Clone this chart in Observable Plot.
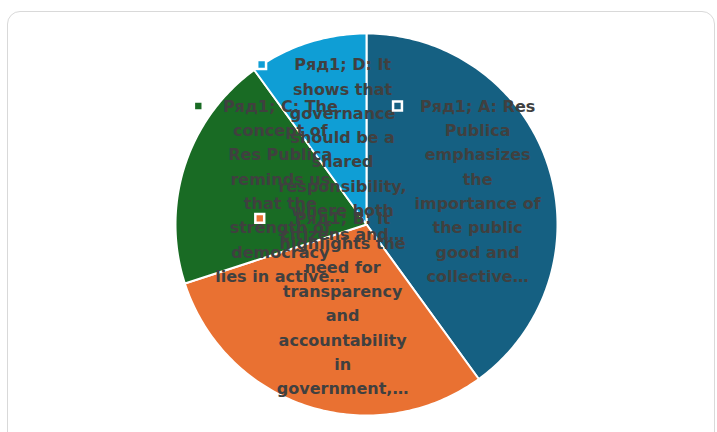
<!DOCTYPE html>
<html><head><meta charset="utf-8">
<script src="https://cdn.jsdelivr.net/npm/d3@7"></script>
<script src="https://cdn.jsdelivr.net/npm/@observablehq/plot@0.6"></script>
<style>
html,body{margin:0;padding:0;background:#fff;overflow:hidden;width:717px;height:432px}
#frame{position:absolute;left:7px;top:11px;width:708px;height:440px;border:1.5px solid #d9d9d9;border-radius:13px;box-sizing:border-box}
#chart{position:absolute;left:0;top:0}
</style></head><body>
<div id="frame"></div>
<div id="chart"></div>
<script>
// ---- data ----
const seriesName = "Ряд1";
const categories = ["A", "B", "C", "D"];
const values = [4, 3, 2, 1];
const labelTexts = [
  "Res\nPublica\nemphasizes\nthe\nimportance of\nthe public\ngood and\ncollective…",
  "It\nhighlights the\nneed for\ntransparency\nand\naccountability\nin\ngovernment,…",
  "The\nconcept of\nRes Publica\nreminds us\nthat the\nstrength of\ndemocracy\nlies in active…",
  "It\nshows that\ngovernance\nshould be a\nshared\nresponsibility,\nwhere both\ncitizens and…"
];
const colors = ["#156082", "#E97132", "#196B24", "#0F9ED5"];

// ---- layout ----
const PX = 191;            // pie radius in px
const lineH = 24.3;        // label line height px
const fontSize = 16;
const fontFamily = "'DejaVu Sans', sans-serif";
const keyGap = 17;         // legend key centre, px left of the text block
const keyW = 23;           // extra label-box width taken by the legend key
const boxLimit = 0.912;    // label boxes are kept inside this fraction of the pie's bounding square

const rows = categories.map((c, i) => ({cat: c, value: values[i], label: `${seriesName}; ${c}: ${labelTexts[i]}`}));
const arcs = d3.pie().sort(null).value(d => d.value)(rows);

// slice outlines in pie units
const pts = [];
for (const s of arcs) {
  const cat = s.data.cat;
  const n = Math.max(2, Math.ceil((s.endAngle - s.startAngle) / (Math.PI / 180)));
  pts.push({cat, x: 0, y: 0});
  for (let k = 0; k <= n; k++) {
    const a = s.startAngle + (s.endAngle - s.startAngle) * k / n;
    pts.push({cat, x: Math.sin(a), y: Math.cos(a)});
  }
  pts.push({cat, x: 0, y: 0});
}

// label placement: slice centroid, with the label box (key + text) clamped into the pie's box
const ctx = document.createElement("canvas").getContext("2d");
ctx.font = `bold ${fontSize}px ${fontFamily}`;
const clamp = (v, lo, hi) => Math.max(lo, Math.min(hi, v));
const labels = [], markers = [];
for (const s of arcs) {
  const mid = (s.startAngle + s.endAngle) / 2;
  const lines = s.data.label.split("\n");
  const wpx = d3.max(lines, l => ctx.measureText(l).width);
  const hw = (wpx + keyW) / 2 / PX, hh = lines.length * lineH / 2 / PX;
  const bx = clamp(0.6 * Math.sin(mid), -boxLimit + hw, boxLimit - hw);
  const by = clamp(0.6 * Math.cos(mid), -boxLimit + hh, boxLimit - hh);
  const textCx = bx + keyW / 2 / PX;
  labels.push({cat: s.data.cat, x: textCx, y: by, text: s.data.label});
  markers.push({cat: s.data.cat, x: textCx - wpx / 2 / PX - keyGap / PX, y: by + hh - (lineH / 2 + 2) / PX});
}

const chart = Plot.plot({
  width: 717,
  height: 432,
  margin: 0,
  x: {domain: [-1, 1], range: [366 - PX, 366 + PX], axis: null},
  y: {domain: [-1, 1], range: [224 + PX, 224 - PX], axis: null},
  color: {domain: categories, range: colors},
  style: {background: "transparent"},
  marks: [
    Plot.line(pts, {x: "x", y: "y", z: "cat", fill: "cat", stroke: "white", strokeWidth: 2, strokeLinejoin: "round"}),
    Plot.text(labels, {x: "x", y: "y", text: "text", fill: "#404040", fontSize, fontWeight: 700, fontFamily, lineHeight: lineH / fontSize, textAnchor: "middle"}),
    Plot.dot(markers, {x: "x", y: "y", symbol: "square", r: 5, fill: "cat", stroke: "white", strokeWidth: 2.5})
  ]
});
document.getElementById("chart").appendChild(chart);
</script>
</body></html>
